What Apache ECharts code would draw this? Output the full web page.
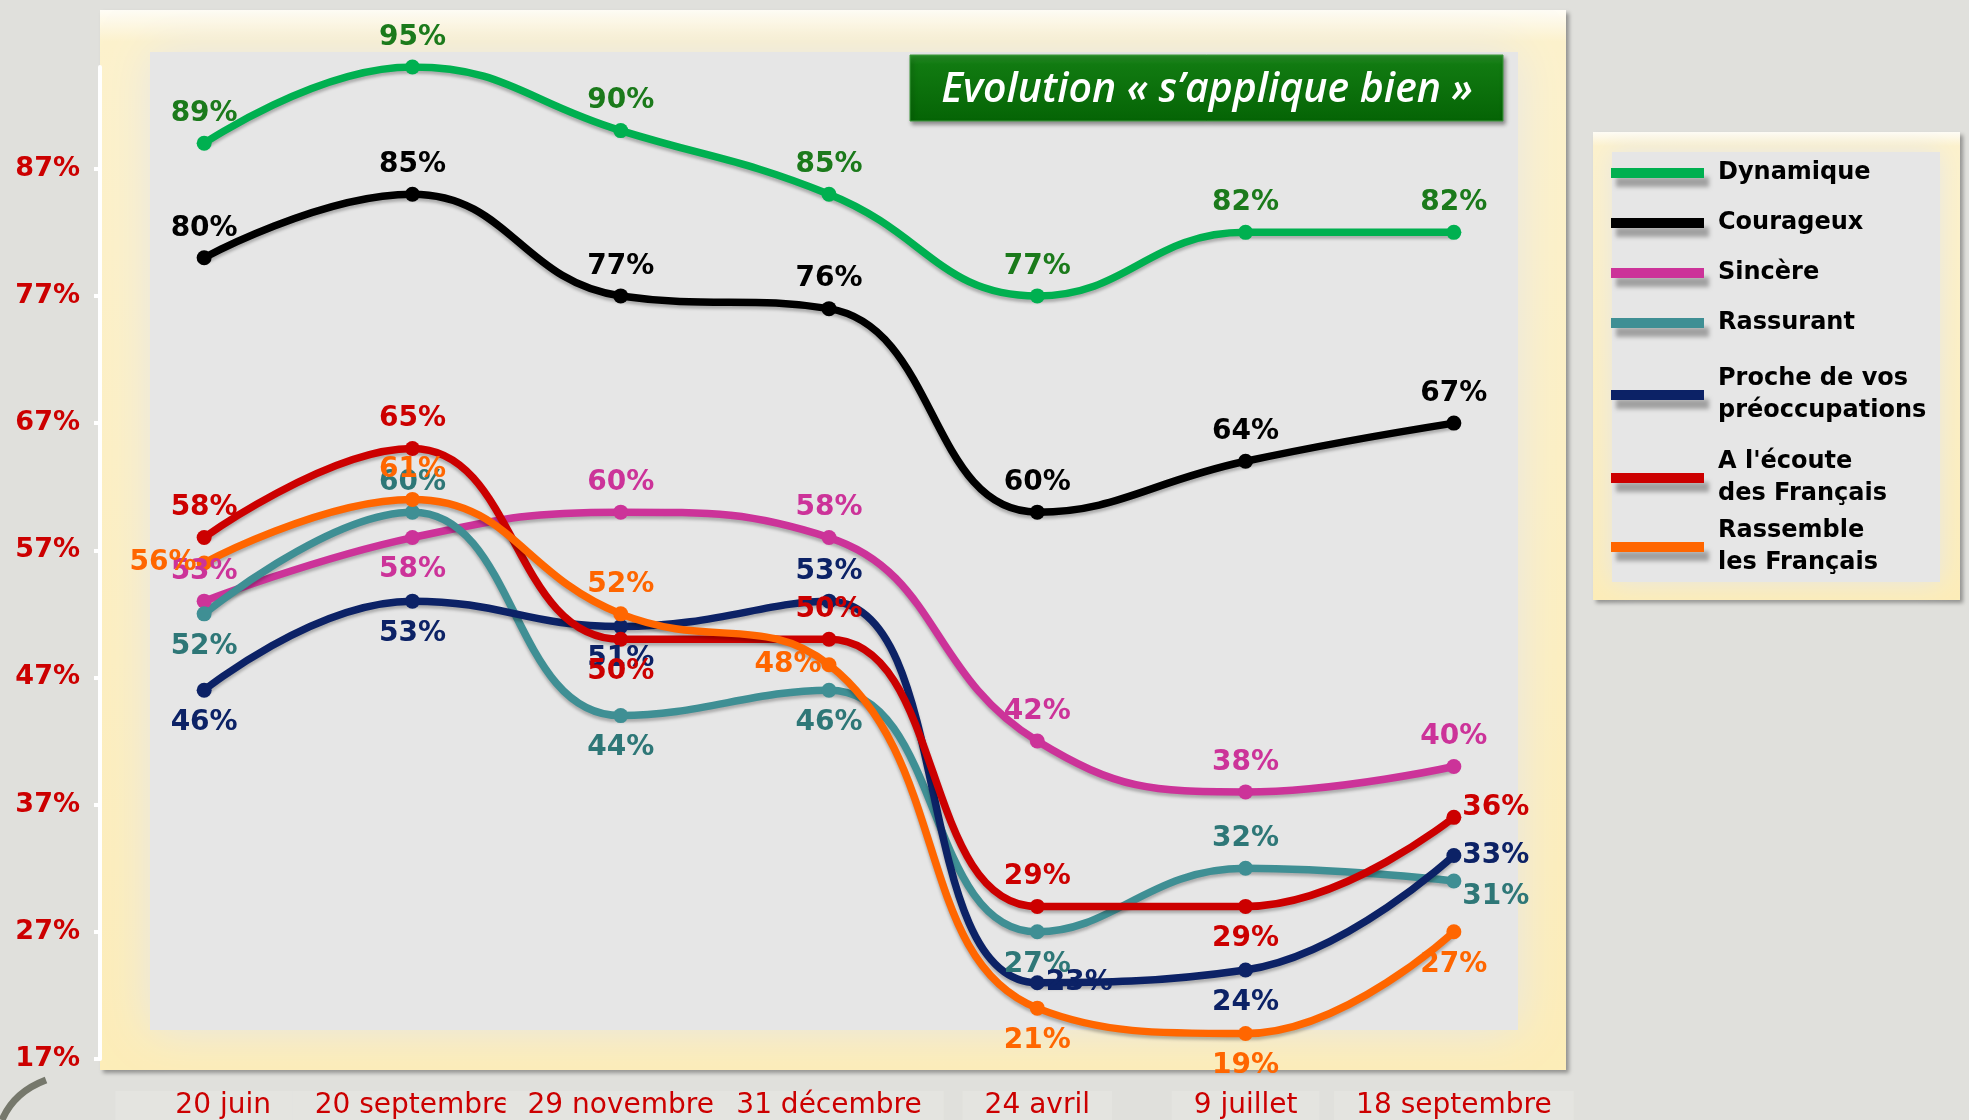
<!DOCTYPE html>
<html>
<head>
<meta charset="utf-8">
<script src="https://cdn.jsdelivr.net/npm/echarts@6/dist/echarts.min.js"></script>
<style>
html, body { margin: 0; padding: 0; background: #e0e0dc; }
#chart { width: 1969px; height: 1120px; }
</style>
</head>
<body>
<div id="chart"></div>
<script>
// dates des vagues
var categories = ['20 juin', '20 septembre', '29 novembre', '31 décembre', '24 avril', '9 juillet', '18 septembre'];

// valeurs "s'applique bien" (%)
var dynamique = [89, 95, 90, 85, 77, 82, 82];
var courageux = [80, 85, 77, 76, 60, 64, 67];
var sincere = [53, 58, 60, 58, 42, 38, 40];
var rassurant = [52, 60, 44, 46, 27, 32, 31];
var proche = [46, 53, 51, 53, 23, 24, 33];
var ecoute = [58, 65, 50, 50, 29, 29, 36];
var rassemble = [56, 61, 52, 48, 21, 19, 27];

var yTicks = [17, 27, 37, 47, 57, 67, 77, 87];

var seriesNames = ['Dynamique', 'Courageux', 'Sincère', 'Rassurant', 'Proche de vos préoccupations', "A l'écoute des Français", 'Rassemble les Français'];
var legendText = ['Dynamique', 'Courageux', 'Sincère', 'Rassurant', 'Proche de vos\npréoccupations', "A l'écoute\ndes Français", 'Rassemble\nles Français'];

// position des étiquettes pour chaque point
var labelPos = [
    ['t', 't', 't', 't', 't', 't', 't'],
    ['t', 't', 't', 't', 't', 't', 't'],
    ['t', 'b', 't', 't', 't', 't', 't'],
    ['b', 't', 'b', 'b', 'b', 't', 'br'],
    ['b', 'b', 'b', 't', 'r', 'b', 'r'],
    ['t', 't', 'b', 't', 't', 'b', 'tr'],
    ['l', 't', 't', 'l', 'b', 'b', 'b']
];
var lineColors = ['#00b050', '#000000', '#cc3399', '#3f8f94', '#0c2266', '#cc0000', '#ff6600'];
var labelColors = ['#1b7a1b', '#000000', '#cc3399', '#2e7777', '#0c2266', '#cc0000', '#ff6600'];

var allData = [dynamique, courageux, sincere, rassurant, proche, ecoute, rassemble];

function labelFor(p) {
    if (p == 't') return { position: 'top', distance: 8 };
    if (p == 'b') return { position: 'bottom', distance: 11 };
    if (p == 'l') return { position: 'left', distance: 0 };
    if (p == 'r') return { position: 'right', distance: 1 };
    if (p == 'br') return { position: 'right', distance: 1, offset: [0, 16] };
    if (p == 'tr') return { position: 'right', distance: 1, offset: [0, -10] };
    return {};
}

var series = [];
for (var s = 0; s < allData.length; s++) {
    var items = [];
    for (var i = 0; i < allData[s].length; i++) {
        items.push({ value: allData[s][i], label: labelFor(labelPos[s][i]) });
    }
    series.push({
        name: seriesNames[s],
        type: 'line',
        smooth: 0.45,
        symbol: 'circle',
        symbolSize: 15,
        data: items,
        itemStyle: { color: lineColors[s] },
        lineStyle: {
            width: 7.5,
            color: lineColors[s],
            shadowColor: 'rgba(0,0,0,0.25)',
            shadowBlur: 3,
            shadowOffsetY: 3
        },
        label: {
            show: true,
            formatter: '{c}%',
            color: labelColors[s],
            fontFamily: 'DejaVu Sans',
            fontWeight: 'bold',
            fontSize: 28
        },
        emphasis: { disabled: true }
    });
}

var creamFill = {
    type: 'linear', x: 0, y: 0, x2: 0, y2: 1,
    colorStops: [
        { offset: 0, color: '#fffdf6' },
        { offset: 0.03, color: '#fdf2cc' },
        { offset: 1, color: '#fdedb8' }
    ]
};

// style commun des blocs de légende
function legendBlock(names, top, gap) {
    return {
        orient: 'vertical',
        left: 1606,
        top: top,
        itemWidth: 93,
        itemHeight: 10,
        itemGap: gap,
        icon: 'rect',
        data: names,
        formatter: function (name) {
            return legendText[seriesNames.indexOf(name)];
        },
        itemStyle: { shadowColor: 'rgba(0,0,0,0.3)', shadowBlur: 4, shadowOffsetY: 9, shadowOffsetX: 5 },
        textStyle: {
            fontFamily: 'DejaVu Sans',
            fontWeight: 'bold',
            fontSize: 24,
            lineHeight: 32,
            color: '#000',
            padding: [0, 0, 0, 9]
        }
    };
}

var chart = echarts.init(document.getElementById('chart'));
chart.setOption({
    animation: false,
    backgroundColor: '#e0e0dc',
    grid: { left: 100, right: 411, top: 67, bottom: 61, outerBoundsMode: 'none' },
    graphic: [
        // cadre du graphique
        { type: 'rect', z: -10, shape: { x: 100, y: 10, width: 1466, height: 1060 },
          style: { fill: creamFill, shadowColor: 'rgba(0,0,0,0.35)', shadowBlur: 4, shadowOffsetX: 3, shadowOffsetY: 3 } },
        { type: 'rect', z: -9, shape: { x: 150, y: 52, width: 1368, height: 978 },
          style: { fill: '#e6e6e6', shadowColor: '#e6e6e6', shadowBlur: 45 } },
        // cadre de la légende
        { type: 'rect', z: -10, shape: { x: 1593, y: 132, width: 367, height: 468 },
          style: { fill: creamFill, shadowColor: 'rgba(0,0,0,0.35)', shadowBlur: 4, shadowOffsetX: 3, shadowOffsetY: 3 } },
        { type: 'rect', z: -9, shape: { x: 1612, y: 152, width: 328, height: 430 },
          style: { fill: '#e6e6e6', shadowColor: '#e6e6e6', shadowBlur: 25 } },
        // titre
        { type: 'rect', z: -8, shape: { x: 910, y: 55, width: 593, height: 66 },
          style: {
              fill: { type: 'linear', x: 0, y: 0, x2: 0, y2: 1,
                      colorStops: [{ offset: 0, color: '#2a922a' }, { offset: 0.15, color: '#117a11' }, { offset: 1, color: '#056405' }] },
              stroke: '#3f9a3f', lineWidth: 1,
              shadowColor: 'rgba(0,0,0,0.4)', shadowBlur: 4, shadowOffsetX: 2, shadowOffsetY: 3
          } },
        { type: 'text', z: -7, style: {
              x: 1207, y: 90, text: 'Evolution « s’applique bien »',
              fill: '#ffffff', font: 'italic 600 41px "Open Sans"',
              align: 'center', verticalAlign: 'middle'
          } },
        // trait décoratif
        { type: 'bezierCurve', z: -10, shape: { x1: 2, y1: 1120, x2: 46, y2: 1080, cpx1: 14, cpy1: 1092 },
          style: { stroke: '#76786c', lineWidth: 7 } }
    ],
    legend: [
        legendBlock(seriesNames.slice(0, 4), 152, 18),
        legendBlock([seriesNames[4]], 358, 0),
        legendBlock([seriesNames[5]], 441, 0),
        legendBlock([seriesNames[6]], 510, 0)
    ],
    xAxis: {
        type: 'category',
        data: categories,
        boundaryGap: true,
        axisLine: { show: false },
        axisTick: { show: false },
        axisLabel: {
            interval: 0,
            margin: 32,
            color: '#cc0000',
            fontFamily: 'DejaVu Sans',
            fontSize: 28,
            lineHeight: 30,
            padding: [0, 22],
            backgroundColor: '#e4e4e0',
            formatter: function (v, idx) {
                return idx == 0 ? '{first|' + v + '}' : v;
            },
            rich: {
                first: {
                    color: '#cc0000',
                    fontFamily: 'DejaVu Sans',
                    fontSize: 28,
                    lineHeight: 30,
                    padding: [0, 0, 0, 38]
                }
            }
        }
    },
    yAxis: {
        type: 'value',
        min: 17,
        max: 95,
        splitLine: { show: false },
        axisLine: { show: true, lineStyle: { color: '#ffffff', width: 4 } },
        axisTick: { show: true, length: 6, customValues: yTicks, lineStyle: { color: '#ffffff', width: 4 } },
        axisLabel: {
            customValues: yTicks,
            formatter: '{value}%',
            margin: 20,
            color: '#cc0000',
            fontFamily: 'DejaVu Sans',
            fontWeight: 'bold',
            fontSize: 27
        }
    },
    series: series
});
</script>
</body>
</html>
